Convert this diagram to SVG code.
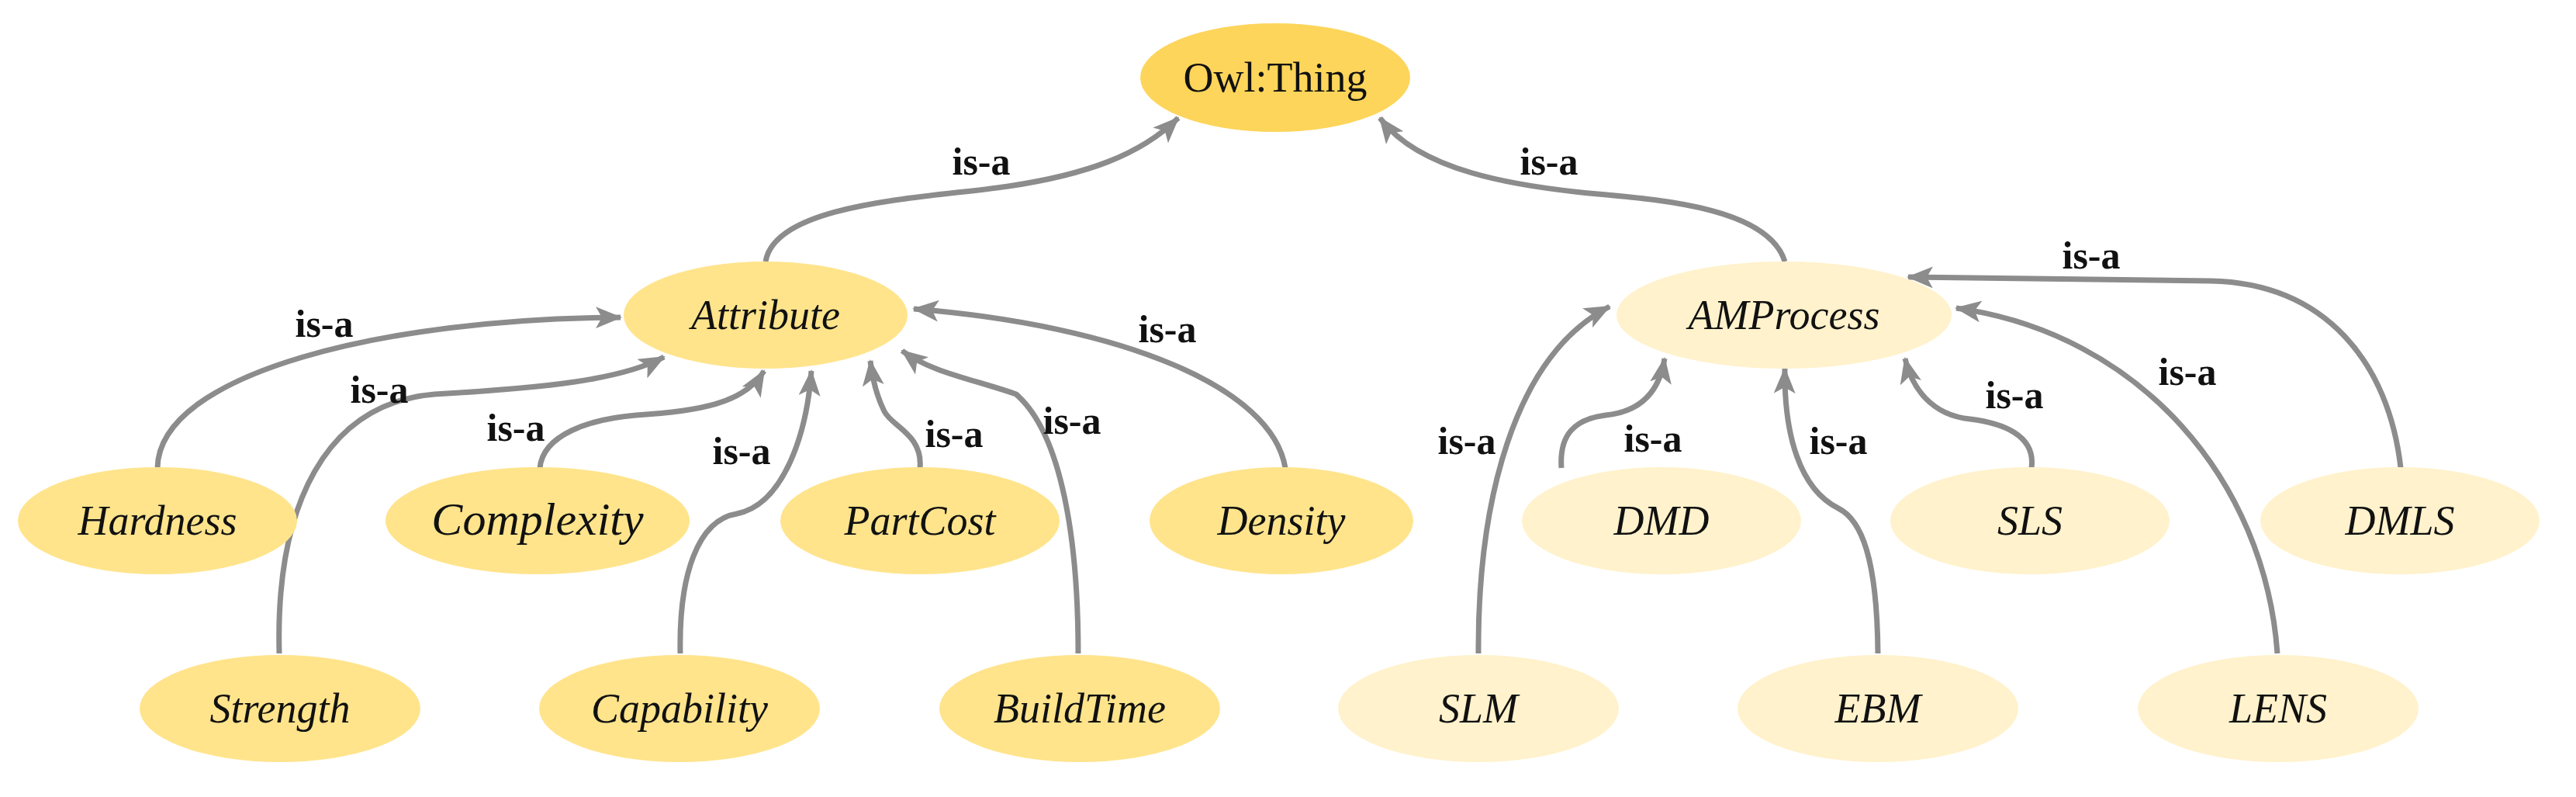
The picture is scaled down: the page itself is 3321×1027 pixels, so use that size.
<svg xmlns="http://www.w3.org/2000/svg" width="3321" height="1027" viewBox="0 0 3321 1027">
<style>
.n text{font-family:"Liberation Serif",serif;font-style:italic;font-size:54px;fill:#111;text-anchor:middle}
.top{fill:#FDD55A}.att{fill:#FFE48C}.amp{fill:#FFF2CC}
.e path{fill:none;stroke:#8C8C8C;stroke-width:7}
.l{font-family:"Liberation Serif",serif;font-weight:bold;font-size:50px;fill:#111;text-anchor:middle}
</style>
<defs>
<marker id="ah" markerUnits="userSpaceOnUse" markerWidth="34" markerHeight="28" refX="32" refY="14" orient="auto">
<path d="M0,0 L34,14 L0,28 L8,14 z" fill="#8C8C8C"/>
</marker>
</defs>
<rect width="3321" height="1027" fill="#fff"/>
<g class="e" marker-end="url(#ah)">
<path d="M987 337 C1000 260 1200 255 1300 240 C1400 225 1470 200 1519 152" marker-end="url(#ah)"/>
<path d="M2301 337 C2280 270 2150 258 2060 250 C1950 240 1830 220 1779 152" marker-end="url(#ah)"/>
<path d="M203 603 C205 480 500 410 800 409" marker-end="url(#ah)"/>
<path d="M360 842 C355 650 420 520 560 508 C700 500 800 490 856 460" marker-end="url(#ah)"/>
<path d="M696 603 C700 560 760 540 820 535 C900 530 960 520 985 478" marker-end="url(#ah)"/>
<path d="M877 842 C875 740 900 670 950 662 C1010 650 1040 560 1046 478" marker-end="url(#ah)"/>
<path d="M1186 603 C1190 560 1150 550 1140 530 C1130 510 1125 490 1122 465" marker-end="url(#ah)"/>
<path d="M1390 842 C1390 700 1370 560 1310 508 C1260 490 1200 480 1163 452" marker-end="url(#ah)"/>
<path d="M1657 603 C1640 500 1450 420 1178 398" marker-end="url(#ah)"/>
<path d="M3095 603 C3080 470 3000 365 2850 362 C2700 360 2550 358 2460 357" marker-end="url(#ah)"/>
<path d="M2936 842 C2920 620 2760 430 2522 397" marker-end="url(#ah)"/>
<path d="M2619 603 C2625 560 2580 545 2540 540 C2490 535 2465 500 2456 462" marker-end="url(#ah)"/>
<path d="M2421 842 C2420 720 2400 670 2370 655 C2320 630 2300 560 2301 475" marker-end="url(#ah)"/>
<path d="M2013 603 C2010 560 2030 540 2070 535 C2120 530 2140 500 2146 462" marker-end="url(#ah)"/>
<path d="M1906 842 C1905 650 1950 460 2075 395" marker-end="url(#ah)"/>
</g>
<g id="labels">
<text class="l" x="1265" y="225">is-a</text>
<text class="l" x="1997" y="225">is-a</text>
<text class="l" x="418" y="434">is-a</text>
<text class="l" x="489" y="519">is-a</text>
<text class="l" x="665" y="568">is-a</text>
<text class="l" x="956" y="598">is-a</text>
<text class="l" x="1230" y="576">is-a</text>
<text class="l" x="1382" y="559">is-a</text>
<text class="l" x="1505" y="441">is-a</text>
<text class="l" x="2696" y="346">is-a</text>
<text class="l" x="2820" y="496">is-a</text>
<text class="l" x="2597" y="526">is-a</text>
<text class="l" x="2370" y="585">is-a</text>
<text class="l" x="2131" y="582">is-a</text>
<text class="l" x="1891" y="585">is-a</text>
</g>
<g id="owl" class="n"><ellipse class="top" cx="1644" cy="100" rx="174" ry="70"/><text x="1644" y="118" style="font-style:normal">Owl:Thing</text></g>
<g id="attribute" class="n"><ellipse class="att" cx="987" cy="406" rx="183" ry="69"/><text x="987" y="424">Attribute</text></g>
<g id="amprocess" class="n"><ellipse class="amp" cx="2300" cy="406" rx="216" ry="69"/><text x="2300" y="424">AMProcess</text></g>
<g id="hardness" class="n"><ellipse class="att" cx="203" cy="671" rx="180" ry="69"/><text x="203" y="689">Hardness</text></g>
<g id="complexity" class="n"><ellipse class="att" cx="693" cy="671" rx="196" ry="69"/><text x="693" y="689" style="font-size:60px">Complexity</text></g>
<g id="partcost" class="n"><ellipse class="att" cx="1186" cy="671" rx="180" ry="69"/><text x="1186" y="689">PartCost</text></g>
<g id="density" class="n"><ellipse class="att" cx="1652" cy="671" rx="170" ry="69"/><text x="1652" y="689">Density</text></g>
<g id="strength" class="n"><ellipse class="att" cx="361" cy="913" rx="181" ry="69"/><text x="361" y="931">Strength</text></g>
<g id="capability" class="n"><ellipse class="att" cx="876" cy="913" rx="181" ry="69"/><text x="876" y="931">Capability</text></g>
<g id="buildtime" class="n"><ellipse class="att" cx="1392" cy="913" rx="181" ry="69"/><text x="1392" y="931">BuildTime</text></g>
<g id="dmd" class="n"><ellipse class="amp" cx="2142" cy="671" rx="180" ry="69"/><text x="2142" y="689">DMD</text></g>
<g id="sls" class="n"><ellipse class="amp" cx="2617" cy="671" rx="180" ry="69"/><text x="2617" y="689">SLS</text></g>
<g id="dmls" class="n"><ellipse class="amp" cx="3094" cy="671" rx="180" ry="69"/><text x="3094" y="689">DMLS</text></g>
<g id="slm" class="n"><ellipse class="amp" cx="1906" cy="913" rx="181" ry="69"/><text x="1906" y="931">SLM</text></g>
<g id="ebm" class="n"><ellipse class="amp" cx="2421" cy="913" rx="181" ry="69"/><text x="2421" y="931">EBM</text></g>
<g id="lens" class="n"><ellipse class="amp" cx="2937" cy="913" rx="181" ry="69"/><text x="2937" y="931">LENS</text></g>
</svg>
